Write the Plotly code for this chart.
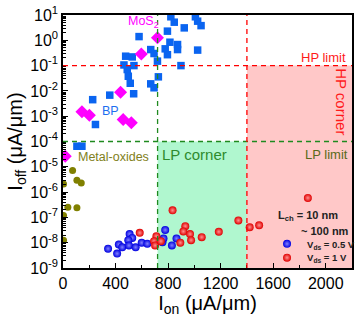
import plotly.graph_objects as go

# ---- data ----
bp_x = [821, 847, 1008, 1025, 1051, 923, 579, 795, 814, 872, 872, 778, 795, 1025, 668, 693, 719,
        477, 527, 464, 540, 898, 489, 497, 726, 512, 668, 693, 538, 356, 226, 247, 106, 144]
bp_y = [8.5, 5.2, 8.5, 5.7, 3.8, 3.1, 1.4, 2.3, 0.84, 0.68, 0.43, 0.46, 0.27, 0.41, 0.43, 0.30, 0.15,
        0.235, 0.22, 0.106, 0.10, 0.10, 0.070, 0.038, 0.036, 0.020, 0.019, 0.0133, 0.0077, 0.0068,
        0.0045, 0.00047, 6.5e-5, 6.5e-5]

mos2_x = [719, 596, 438, 144, 201, 458, 520, 17]
mos2_y = [1.26, 0.29, 0.0089, 0.0015, 0.0011, 0.00074, 0.00055, 2.6e-5]

mox_x = [73, 106, 139, 4, 37, 106, 4, 4]
mox_y = [7.1e-6, 2.95e-6, 2.3e-6, 2.1e-6, 2.5e-7, 2.4e-7, 1.2e-7, 1.25e-8]

v05_x = [343, 412, 425, 451, 507, 527, 497, 502, 553, 599, 642, 757, 778, 765, 829, 864]
v05_y = [5.8e-9, 3.7e-9, 8.5e-9, 6.6e-9, 2.2e-8, 1.55e-8, 1.26e-8, 7.8e-9, 6.6e-9, 1.0e-8,
         9.1e-9, 1.05e-8, 3.2e-8, 1.48e-8, 7.8e-9, 1.48e-8]

v1_x = [584, 834, 711, 693, 701, 745, 931, 916, 967, 893, 975, 1056, 1186, 1335, 1421, 1493, 1864]
v1_y = [2.45e-8, 1.9e-7, 1.8e-8, 1.15e-8, 7.8e-9, 1.15e-8, 4.5e-8, 2.8e-8, 2.2e-8, 1.0e-8,
        1.26e-8, 1.66e-8, 2.7e-8, 7.6e-8, 4.1e-8, 4.9e-8, 5.9e-7]

hp_limit = 0.1
lp_limit = 1e-4
lp_corner_x = 720
hp_corner_x = 1400
x_max = 2200
y_exp = list(range(-9, 2))
x_ticks = [0, 400, 800, 1200, 1600, 2000]

FONT = "Arial, Liberation Sans, sans-serif"

fig = go.Figure()
fig.add_trace(go.Scatter(x=bp_x, y=bp_y, mode="markers", showlegend=False,
                         marker=dict(symbol="square", size=7.5, color="#0a64f0")))
fig.add_trace(go.Scatter(x=mos2_x, y=mos2_y, mode="markers", showlegend=False,
                         marker=dict(symbol="diamond", size=10, color="#ff00ff")))
fig.add_trace(go.Scatter(x=mox_x, y=mox_y, mode="markers", showlegend=False,
                         marker=dict(symbol="circle", size=7, color="#808000")))
fig.add_trace(go.Scatter(x=v05_x, y=v05_y, mode="markers", name="V<sub>ds</sub> = 0.5 V",
                         legend="legend",
                         marker=dict(symbol="circle", size=8, color="#0000e0",
                                     gradient=dict(type="radial", color="#8080ff"))))
fig.add_trace(go.Scatter(x=v1_x, y=v1_y, mode="markers", name="V<sub>ds</sub> = 1 V",
                         legend="legend2",
                         marker=dict(symbol="circle", size=8, color="#e00000",
                                     gradient=dict(type="radial", color="#ff9090"))))

# shaded corners
fig.add_shape(type="rect", xref="x", yref="y", x0=lp_corner_x, x1=hp_corner_x, y0=1e-9, y1=lp_limit,
              fillcolor="#b0f7cf", line_width=0, layer="below")
fig.add_shape(type="rect", xref="x", yref="y", x0=hp_corner_x, x1=x_max, y0=1e-9, y1=hp_limit,
              fillcolor="#ffc8c8", line_width=0, layer="below")
# limit lines
dash = "5px,4px"
fig.add_shape(type="line", xref="paper", yref="y", x0=0, x1=1, y0=hp_limit, y1=hp_limit,
              line=dict(color="#ff0000", width=1.3, dash=dash))
fig.add_shape(type="line", xref="paper", yref="y", x0=0, x1=1, y0=lp_limit, y1=lp_limit,
              line=dict(color="#1f8a1f", width=1.3, dash=dash))
fig.add_shape(type="line", xref="x", yref="paper", x0=lp_corner_x, x1=lp_corner_x, y0=0, y1=1,
              line=dict(color="#1f8a1f", width=1.3, dash=dash))
fig.add_shape(type="line", xref="x", yref="paper", x0=hp_corner_x, x1=hp_corner_x, y0=0, y1=1,
              line=dict(color="#ff0000", width=1.3, dash=dash))

def ann(text, x, logy, color, size, xanchor="left", angle=0, bold=False):
    # annotation y on a log axis is given as log10(value)
    fig.add_annotation(text=text, x=x, y=logy, xref="x", yref="y", showarrow=False,
                       xanchor=xanchor, yanchor="middle", textangle=angle,
                       font=dict(family=FONT, size=size, color=color,
                                 weight="bold" if bold else "normal"))

ann("MoS<sub>2</sub>", 479, 0.72, "#ff00ff", 12.5)
ann("BP", 282, -2.78, "#1e6ef0", 12.5)
ann("Metal-oxides", 99, -4.63, "#808020", 12.5)
ann("HP limit", 2172, -0.68, "#ff1a1a", 13, xanchor="right")
ann("HP corner", 2123, -2.44, "#ff1a1a", 15, xanchor="center", angle=90)
ann("LP corner", 738, -4.51, "#2e8b2e", 15)
ann("LP limit", 2186, -4.51, "#5a6a1a", 13, xanchor="right")
ann("L<sub>ch</sub> = 10 nm", 1625, -6.96, "#222222", 11, bold=True)
ann("~ 100 nm", 1800, -7.55, "#222222", 11, bold=True)

leg_font = dict(family=FONT, size=9.5, color="#222222", weight="bold")
fig.update_layout(
    width=360, height=321,
    margin=dict(l=63, r=8, t=15, b=53, autoexpand=False),
    paper_bgcolor="white", plot_bgcolor="white",
    font=dict(family=FONT, color="black"),
    showlegend=True,
    legend=dict(x=0.706, y=0.0955, xanchor="left", yanchor="middle", bgcolor="rgba(0,0,0,0)",
                font=leg_font, itemwidth=30, tracegroupgap=0),
    legend2=dict(x=0.706, y=0.041, xanchor="left", yanchor="middle", bgcolor="rgba(0,0,0,0)",
                 font=leg_font, itemwidth=30, tracegroupgap=0),
    xaxis=dict(range=[0, x_max], tickvals=x_ticks, ticktext=[str(v) for v in x_ticks],
               ticks="inside", ticklen=5, tickwidth=1, tickcolor="black",
               minor=dict(dtick=200, ticks="inside", ticklen=3, tickcolor="black"),
               showline=True, linecolor="black", linewidth=1.5, mirror=True,
               showgrid=False, zeroline=False,
               tickfont=dict(size=16, family=FONT, color="black"),
               title=dict(text="I<sub>on</sub> (μA/μm)", font=dict(size=20, family=FONT), standoff=4)),
    yaxis=dict(type="log", range=[-9, 1], tickvals=[10.0 ** e for e in y_exp],
               ticktext=["10<sup>%d</sup>" % e for e in y_exp],
               ticks="inside", ticklen=5, tickwidth=1.2, tickcolor="black",
               minor=dict(dtick="D1", ticks="inside", ticklen=3, tickcolor="black"),
               showline=True, linecolor="black", linewidth=1.5, mirror=True,
               showgrid=False, zeroline=False,
               tickfont=dict(size=16, family=FONT, color="black"),
               title=dict(text="I<sub>off</sub> (μA/μm)", font=dict(size=20, family=FONT), standoff=2)),
)

fig.write_html("out.html")
